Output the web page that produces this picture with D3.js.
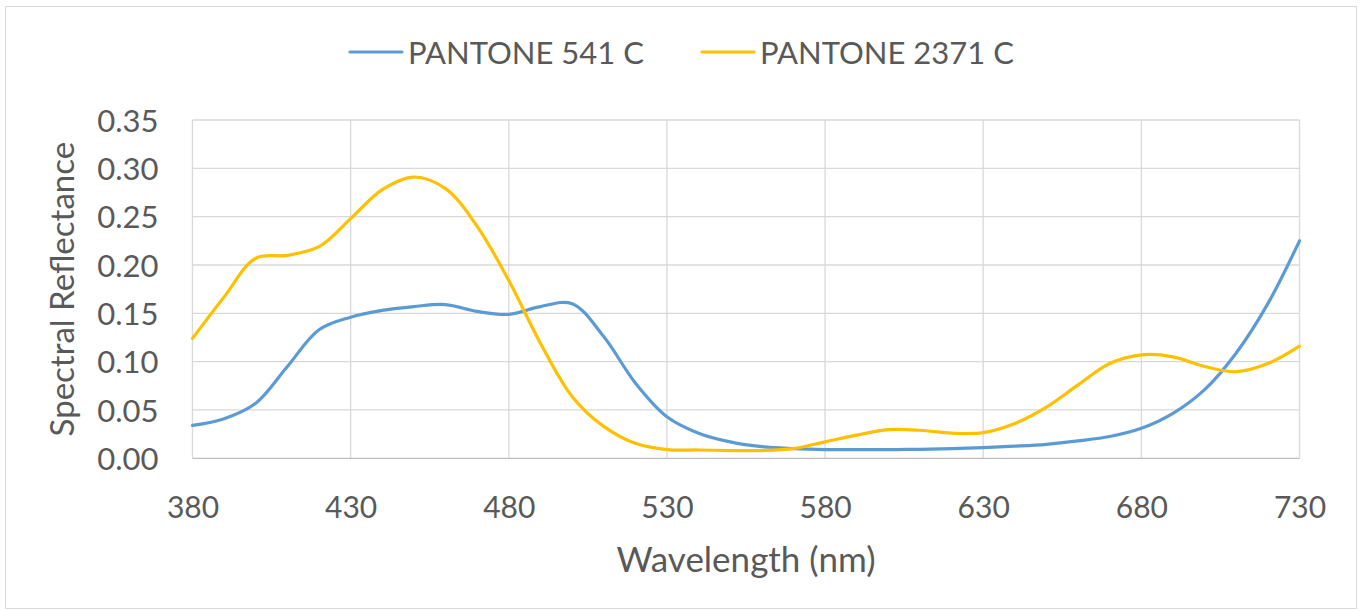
<!DOCTYPE html>
<html>
<head>
<meta charset="utf-8">
<script src="https://cdn.jsdelivr.net/npm/d3@7"></script>
<style>
  body { margin: 0; background: #fff; }
  text { font-family: Lato, "Open Sans", sans-serif; fill: #595959; }
</style>
</head>
<body>
<div id="chart"></div>
<script>
// wavelengths (nm), 10 nm steps
var wavelengths = d3.range(380, 731, 10);

var pantone541 = [0.034, 0.041, 0.057, 0.095, 0.133, 0.146, 0.153, 0.157, 0.159, 0.152,
    0.149, 0.157, 0.160, 0.126, 0.078, 0.043, 0.026, 0.017, 0.012, 0.010,
    0.009, 0.009, 0.009, 0.0093, 0.010, 0.011, 0.0125, 0.0145, 0.018, 0.0225,
    0.031, 0.0465, 0.071, 0.109, 0.160, 0.225];

var pantone2371 = [0.124, 0.167, 0.207, 0.210, 0.219, 0.248, 0.278, 0.291, 0.279, 0.240,
    0.184, 0.119, 0.064, 0.033, 0.0155, 0.009, 0.0086, 0.008, 0.008, 0.010,
    0.017, 0.024, 0.0296, 0.029, 0.026, 0.0265, 0.036, 0.053, 0.076, 0.098,
    0.107, 0.105, 0.095, 0.0896, 0.098, 0.116];

var series_names = ["PANTONE 541 C", "PANTONE 2371 C"];
var series_colors = ["#5B9BD5", "#FFC000"];
var x_ticks = [380, 430, 480, 530, 580, 630, 680, 730];
var y_ticks = [0, 0.05, 0.10, 0.15, 0.20, 0.25, 0.30, 0.35];

var W = 1361, H = 611;
var svg = d3.select("#chart").append("svg")
    .attr("width", W)
    .attr("height", H);

// chart border
svg.append("rect")
    .attr("x", 5.5).attr("y", 6.5)
    .attr("width", 1351).attr("height", 602)
    .attr("fill", "#fff")
    .attr("stroke", "#D9D9D9");

var plot_left = 192.5, plot_right = 1299.5, plot_top = 120, plot_bottom = 458.3;

var x = d3.scaleLinear().domain([380, 730]).range([plot_left, plot_right]);
var y = d3.scaleLinear().domain([0, 0.35]).range([plot_bottom, plot_top]);

// gridlines
svg.append("g")
    .selectAll("line")
    .data(y_ticks.slice(1))
    .join("line")
    .attr("x1", plot_left).attr("x2", plot_right)
    .attr("y1", d => y(d)).attr("y2", d => y(d))
    .attr("stroke", "#D9D9D9").attr("stroke-width", 1.3);

svg.append("g")
    .selectAll("line")
    .data(x_ticks)
    .join("line")
    .attr("x1", d => x(d)).attr("x2", d => x(d))
    .attr("y1", plot_top).attr("y2", plot_bottom)
    .attr("stroke", "#D9D9D9").attr("stroke-width", 1.3);

// bottom axis line
svg.append("line")
    .attr("x1", plot_left).attr("x2", plot_right)
    .attr("y1", plot_bottom).attr("y2", plot_bottom)
    .attr("stroke", "#BFBFBF").attr("stroke-width", 1.3);

// axes labels
var xAxis = d3.axisBottom(x).tickValues(x_ticks).tickSize(0).tickPadding(0);
var gx = svg.append("g").attr("transform", "translate(0," + plot_bottom + ")").call(xAxis);
gx.select(".domain").remove();
gx.selectAll("text")
    .attr("y", 60)
    .attr("dy", null)
    .attr("font-family", null)
    .attr("font-size", 30)
    .attr("fill", "#595959");

var yAxis = d3.axisLeft(y).tickValues(y_ticks).tickSize(0).tickFormat(d3.format(".2f"));
var gy = svg.append("g").attr("transform", "translate(" + plot_left + ",0)").call(yAxis);
gy.select(".domain").remove();
gy.selectAll("text")
    .attr("x", -34)
    .attr("dy", "0.36em")
    .attr("font-family", null)
    .attr("font-size", 31)
    .attr("fill", "#595959");

// axis titles
svg.append("text")
    .attr("x", (plot_left + plot_right) / 2)
    .attr("y", 572)
    .attr("text-anchor", "middle")
    .attr("font-size", 35)
    .text("Wavelength (nm)");

svg.append("text")
    .attr("transform", "translate(74," + ((plot_top + plot_bottom) / 2) + ") rotate(-90)")
    .attr("text-anchor", "middle")
    .attr("font-size", 33)
    .text("Spectral Reflectance");

// lines
var line = d3.line()
    .x((d, i) => x(wavelengths[i]))
    .y(d => y(d))
    .curve(d3.curveCatmullRom.alpha(0.5));

[pantone541, pantone2371].forEach(function (s, k) {
    svg.append("path")
        .datum(s)
        .attr("d", line)
        .attr("fill", "none")
        .attr("stroke", series_colors[k])
        .attr("stroke-width", 3.2)
        .attr("stroke-linecap", "round");
});

// legend
var legend_x = [350, 702];
series_names.forEach(function (name, k) {
    var g = svg.append("g").attr("transform", "translate(" + legend_x[k] + ",52)");
    g.append("line")
        .attr("x1", 0).attr("x2", 52)
        .attr("y1", 0).attr("y2", 0)
        .attr("stroke", series_colors[k])
        .attr("stroke-width", 3.2)
        .attr("stroke-linecap", "round");
    g.append("text")
        .attr("x", 58)
        .attr("y", 12)
        .attr("font-size", 31)
        .text(name);
});
</script>
</body>
</html>
